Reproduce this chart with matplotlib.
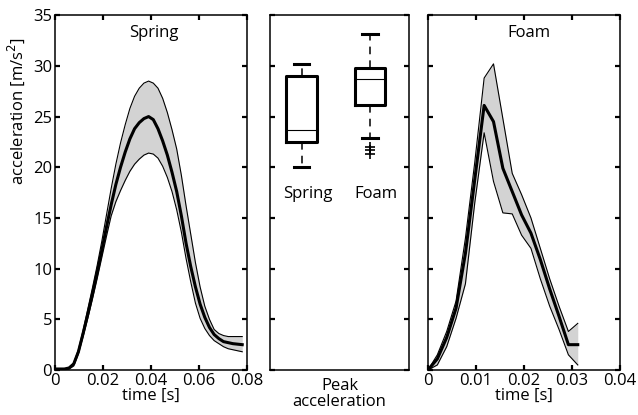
import numpy as np
import matplotlib.pyplot as plt

plt.rcParams['font.family'] = ['Open Sans', 'DejaVu Sans']
plt.rcParams['font.size'] = 12

# Spring impact: mean and envelope (acceleration in m/s^2)
spring_t = [0.0, 0.00195, 0.0039, 0.00585, 0.0078, 0.00975, 0.0117, 0.01365, 0.0156, 0.01755,
            0.0195, 0.02145, 0.0234, 0.02535, 0.0273, 0.02925, 0.0312, 0.03315, 0.0351, 0.03705,
            0.039, 0.04095, 0.0429, 0.04485, 0.0468, 0.04875, 0.0507, 0.05265, 0.0546, 0.05655,
            0.0585, 0.06045, 0.0624, 0.06435, 0.0663, 0.06825, 0.0702, 0.07215, 0.0741, 0.07605, 0.078]
spring_mean = [0.1, 0.1, 0.1, 0.2, 0.6, 1.8, 3.6, 5.5, 7.5, 9.6,
               11.8, 14.1, 16.3, 18.3, 20.0, 21.5, 22.8, 23.8, 24.4, 24.8,
               25.0, 24.7, 23.8, 22.6, 21.2, 19.5, 17.6, 15.2, 12.5, 10.2,
               8.2, 6.5, 5.2, 4.2, 3.5, 3.1, 2.8, 2.7, 2.6, 2.55, 2.5]
spring_upper = [0.1, 0.1, 0.1, 0.2, 0.7, 2.0, 3.9, 6.0, 8.1, 10.3,
                12.7, 15.3, 17.9, 20.3, 22.4, 24.2, 25.8, 27.0, 27.8, 28.3,
                28.5, 28.3, 27.8, 26.8, 25.4, 23.7, 21.8, 19.2, 16.2, 13.4,
                10.6, 8.2, 6.3, 5.0, 4.0, 3.6, 3.4, 3.3, 3.3, 3.3, 3.3]
spring_lower = [0.0, 0.0, 0.0, 0.1, 0.4, 1.6, 3.3, 5.1, 7.0, 9.0,
                11.1, 13.2, 15.2, 16.6, 17.7, 18.7, 19.6, 20.3, 20.8, 21.2,
                21.4, 21.3, 20.9, 20.1, 19.0, 17.6, 15.8, 13.6, 11.0, 8.7,
                6.6, 5.1, 4.1, 3.4, 2.9, 2.6, 2.3, 2.1, 2.0, 1.9, 1.8]

# Foam impact: mean and envelope
foam_t = [0.0, 0.00195, 0.0039, 0.00585, 0.0078, 0.00975, 0.0117, 0.01365, 0.0156,
          0.01755, 0.0195, 0.02145, 0.0234, 0.02535, 0.0273, 0.02925, 0.0312]
foam_mean = [0.0, 1.1, 3.2, 6.1, 11.5, 18.8, 26.1, 24.5, 19.9,
             17.6, 15.3, 13.5, 10.9, 8.0, 5.3, 2.5, 2.5]
foam_upper = [0.0, 1.5, 3.8, 6.8, 13.0, 20.5, 28.8, 30.2, 24.8,
              19.4, 17.3, 15.0, 12.0, 9.0, 6.3, 3.8, 4.6]
foam_lower = [0.0, 0.5, 2.3, 5.1, 8.5, 16.5, 23.4, 18.6, 15.5,
              15.4, 13.3, 12.0, 9.0, 6.3, 4.0, 1.5, 0.5]

# Peak acceleration box plot stats
box_labels = ['Spring', 'Foam']
box_med = [23.7, 28.7]
box_q1 = [22.5, 26.1]
box_q3 = [29.0, 29.8]
box_lo = [20.0, 22.9]
box_hi = [30.2, 33.1]
box_fliers = [[], [22.0, 21.7, 21.3]]

fig = plt.figure(figsize=(6.38, 4.15), dpi=100)
ax1 = fig.add_axes([0.0862, 0.1084, 0.301, 0.855])
ax2 = fig.add_axes([0.4232, 0.1084, 0.2179, 0.855])
ax3 = fig.add_axes([0.6708, 0.1084, 0.301, 0.855])

for ax in (ax1, ax2, ax3):
    ax.set_ylim(0, 35)
    ax.set_yticks(range(0, 36, 5))
    ax.tick_params(direction='in', length=3.5, width=1.6, top=True, right=True, pad=2,
                   labelsize=12)
    for s in ax.spines.values():
        s.set_linewidth(1.1)

# left panel - spring
ax1.fill_between(spring_t, spring_lower, spring_upper, color='#d3d3d3', lw=0)
ax1.plot(spring_t, spring_upper, color='k', lw=0.8)
ax1.plot(spring_t, spring_lower, color='k', lw=0.8)
ax1.plot(spring_t, spring_mean, color='k', lw=2.2)
ax1.set_xlim(0, 0.08)
ax1.set_xticks([0, 0.02, 0.04, 0.06, 0.08])
ax1.set_xticklabels(['0', '0.02', '0.04', '0.06', '0.08'])
ax1.set_xlabel('time [s]', fontsize=12, labelpad=-1)
ax1.set_ylabel('acceleration [m/s$^2$]', fontsize=12)
ax1.yaxis.set_label_coords(-0.145, 0.73)
ax1.text(0.041, 33.2, 'Spring', ha='center', va='center', fontsize=12)

# middle panel - box plot
stats = []
for i in range(2):
    stats.append(dict(med=box_med[i], q1=box_q1[i], q3=box_q3[i],
                      whislo=box_lo[i], whishi=box_hi[i], fliers=box_fliers[i]))
ax2.bxp(stats, positions=[1, 2], widths=0.44, showfliers=True,
        boxprops=dict(color='k', lw=2.2),
        medianprops=dict(color='k', lw=0.8),
        whiskerprops=dict(color='k', lw=1.1, ls=(0, (5, 4))),
        capprops=dict(color='k', lw=2.2),
        capwidths=0.22,
        flierprops=dict(marker='+', markersize=7, markeredgecolor='k', markeredgewidth=1.2))
ax2.set_xlim(0.54, 2.57)
ax2.set_xticks([])
ax2.set_yticklabels([])
for i, lab in enumerate(box_labels):
    ax2.text(i + 1.09, 17.4, lab, ha='center', va='center', fontsize=12)
ax2.set_xlabel('Peak\nacceleration', fontsize=12, labelpad=6, linespacing=0.95)

# right panel - foam
ax3.fill_between(foam_t, foam_lower, foam_upper, color='#d3d3d3', lw=0)
ax3.plot(foam_t, foam_upper, color='k', lw=0.8)
ax3.plot(foam_t, foam_lower, color='k', lw=0.8)
ax3.plot(foam_t, foam_mean, color='k', lw=2.2)
ax3.set_xlim(0, 0.04)
ax3.set_xticks([0, 0.01, 0.02, 0.03, 0.04])
ax3.set_xticklabels(['0', '0.01', '0.02', '0.03', '0.04'])
ax3.set_yticklabels([])
ax3.set_xlabel('time [s]', fontsize=12, labelpad=-1)
ax3.text(0.021, 33.2, 'Foam', ha='center', va='center', fontsize=12)

fig.savefig('out.png', dpi=100)
